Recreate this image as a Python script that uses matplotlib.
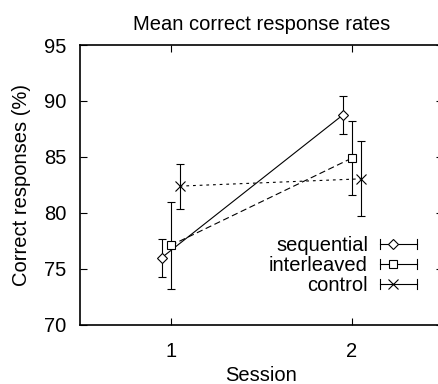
import matplotlib
matplotlib.use('Agg')
import matplotlib.pyplot as plt
from matplotlib.legend_handler import HandlerBase
from matplotlib.lines import Line2D

plt.rcParams['font.family'] = ['Liberation Sans', 'DejaVu Sans']
plt.rcParams['font.size'] = 14.5
plt.rcParams['lines.scale_dashes'] = False

sessions = [1, 2]
labels = ['sequential', 'interleaved', 'control']
offsets = [-0.05, 0.0, 0.05]
means = [[76.0, 88.75], [77.1, 84.9], [82.4, 83.05]]
errs = [[1.7, 1.7], [3.9, 3.3], [2.0, 3.35]]
markers = ['D', 's', 'x']
msizes = [5, 6, 7]
styles = ['-', (0, (4.5, 2.5)), (0, (2, 2.8))]


class ErrHandler(HandlerBase):
    def create_artists(self, legend, orig, xdescent, ydescent, width, height, fontsize, trans):
        y = height / 2 - ydescent
        x0, x1 = -xdescent, width - xdescent
        h = 3.5
        arts = [Line2D([x0, x1], [y, y], color='black', lw=0.8),
                Line2D([x0, x0], [y - h, y + h], color='black', lw=0.8),
                Line2D([x1, x1], [y - h, y + h], color='black', lw=0.8),
                Line2D([x0 + width * 0.35], [y], marker=orig.get_marker(),
                       ms=orig.get_markersize(), mfc='white', mec='black', mew=0.8)]
        for a in arts:
            a.set_transform(trans)
        return arts


fig = plt.figure(figsize=(4.38, 3.84), dpi=100)
ax = fig.add_axes([80 / 438, 59 / 384, 362.5 / 438, 280 / 384])

handles = []
for lab, off, m, e, mk, ms, ls in zip(labels, offsets, means, errs, markers, msizes, styles):
    xs = [s + off for s in sessions]
    ax.errorbar(xs, m, yerr=e, color='black', lw=0.8, ls=ls, marker=mk, ms=ms,
                mfc='white', mec='black', mew=0.8, capsize=3, elinewidth=0.8, capthick=0.8)
    handles.append(Line2D([], [], marker=mk, ms=ms, color='black'))

ax.set_xlim(0.5, 2.5)
ax.set_ylim(70, 95)
ax.set_xticks(sessions)
ax.set_yticks([70, 75, 80, 85, 90, 95])
ax.tick_params(direction='in', top=True, right=True, length=5, width=0.8)
ax.tick_params(axis='y', pad=10)
ax.tick_params(axis='x', pad=12)
for sp in ax.spines.values():
    sp.set_linewidth(1.2)

ax.set_title('Mean correct response rates', fontsize=14.5, pad=11)
ax.set_xlabel('Session', labelpad=4)
ax.set_ylabel('Correct responses (%)', labelpad=9)

ax.legend(handles, labels, handler_map={Line2D: ErrHandler()}, markerfirst=False,
          frameon=False, loc='center right', bbox_to_anchor=(0.93, 0.2125),
          borderpad=0, borderaxespad=0, handlelength=1.84, handletextpad=0.6,
          labelspacing=0.05)

fig.savefig('out.png', dpi=100)
